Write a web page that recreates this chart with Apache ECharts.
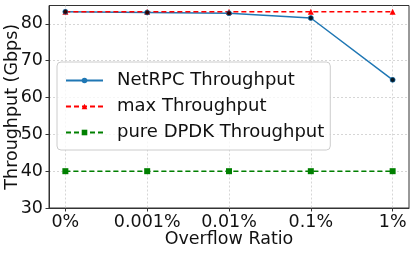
<!DOCTYPE html>
<html><head><meta charset="utf-8">
<script src="https://cdn.jsdelivr.net/npm/echarts@6/dist/echarts.min.js"></script>
<style>html,body{margin:0;padding:0;background:#fff}#c{width:415px;height:253px}</style>
</head><body><div id="c"></div>
<script>
const categories = ['0%', '0.001%', '0.01%', '0.1%', '1%'];
const netrpc = [83.3, 83.1, 82.9, 81.6, 64.8];
const maxThr = [83.3, 83.3, 83.3, 83.3, 83.3];
const dpdk = [40, 40, 40, 40, 40];
const yTicks = [30, 40, 50, 60, 70, 80];

const F = 'DejaVu Sans';
const FS = 17.5;
const toXY = arr => arr.map((v, i) => [i, v]);
const chart = echarts.init(document.getElementById('c'), null, {renderer: 'canvas'});
chart.setOption({
  animation: false,
  textStyle: {fontFamily: F},
  grid: {left: 49, right: 6, top: 5.5, bottom: 45, show: true, borderColor: '#333', borderWidth: 1,
         containLabel: false, outerBoundsMode: 'none'},
  xAxis: {
    type: 'value', min: -0.2, max: 4.2,
    name: 'Overflow Ratio', nameLocation: 'middle', nameGap: 22.5, nameMoveOverlap: false,
    nameTextStyle: {fontFamily: F, fontSize: FS, color: '#111'},
    axisLine: {show: true, onZero: false, lineStyle: {color: '#333'}},
    axisTick: {show: true, length: 3.5, customValues: [0,1,2,3,4], lineStyle: {color: '#333'}},
    axisLabel: {customValues: [0,1,2,3,4], formatter: v => categories[v] ?? '', fontFamily: F, fontSize: FS, color: '#111', margin: 5},
    splitLine: {show: true, lineStyle: {color: '#ccc', type: [2, 2], width: 0.8}}
  },
  yAxis: {
    type: 'value', min: 30, max: 85, interval: 10,
    name: 'Throughput (Gbps)', nameLocation: 'middle', nameGap: 28, nameMoveOverlap: false,
    nameTextStyle: {fontFamily: F, fontSize: FS, color: '#111'},
    axisLine: {show: true, onZero: false, lineStyle: {color: '#333'}},
    axisTick: {show: true, length: 3.5, customValues: yTicks, lineStyle: {color: '#333'}},
    axisLabel: {customValues: yTicks, fontFamily: F, fontSize: FS, color: '#111', margin: 6},
    splitLine: {show: true, lineStyle: {color: '#ccc', type: [2, 2], width: 0.8}}
  },
  legend: {
    orient: 'vertical', left: 57, top: 62,
    padding: [9, 6, 8, 8], itemGap: 7, itemWidth: 37, itemHeight: 7,
    borderColor: '#ccc', borderWidth: 1, borderRadius: 4, backgroundColor: 'rgba(255,255,255,0.8)',
    textStyle: {fontFamily: F, fontSize: 18, color: '#111', lineHeight: 19, padding: [0, 0, 0, 9]},
    data: ['NetRPC Throughput', 'max Throughput', 'pure DPDK Throughput']
  },
  series: [
    {name: 'pure DPDK Throughput', type: 'line', data: toXY(dpdk), z: 2,
     symbol: 'rect', symbolSize: 6, itemStyle: {color: '#008000'},
     lineStyle: {color: '#008000', width: 1.5, type: [5, 3]}},
    {name: 'NetRPC Throughput', type: 'line', data: toXY(netrpc), z: 3,
     symbol: 'circle', symbolSize: 5, itemStyle: {color: '#1f77b4'},
     lineStyle: {color: '#1f77b4', width: 1.5}},
    {name: 'max Throughput', type: 'line', data: toXY(maxThr), z: 4,
     symbol: 'triangle', symbolSize: 6, itemStyle: {color: '#ff0000'},
     lineStyle: {color: '#ff0000', width: 1.5, type: [5, 3]}},
    {name: 'NetRPC points', type: 'scatter', data: toXY(netrpc), z: 5,
     symbol: 'circle', symbolSize: 5, itemStyle: {color: '#000', borderColor: '#1f77b4', borderWidth: 0.8}}
  ]
});
</script></body></html>
